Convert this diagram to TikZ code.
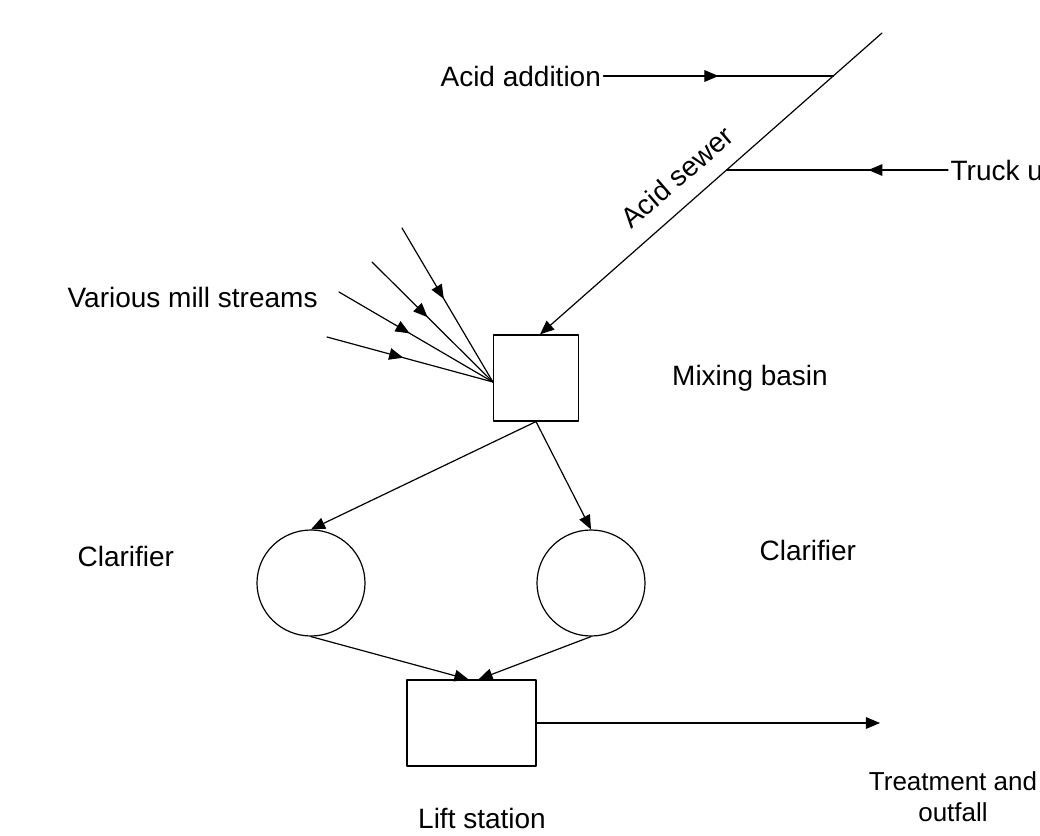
\documentclass[tikz,border=0pt]{standalone}
\usepackage{fontspec}
\setmainfont{Liberation Sans}
\usepackage{tikz}
\usetikzlibrary{calc}
\usetikzlibrary{arrows}
\usetikzlibrary{shapes.geometric}
\usetikzlibrary{decorations.markings}
\tikzstyle{every node}=[font=\fontsize{14}{17}\selectfont]
\tikzset{
  tank/.style={draw,line width=0.6pt,minimum width=42.5pt,minimum height=43pt,inner sep=0pt},
  clarif/.style={draw,ellipse,line width=0.6pt,minimum width=54pt,minimum height=53pt,inner sep=0pt},
  lbl/.style={inner sep=1pt},
  midarrow/.style={postaction={decorate},decoration={markings,mark=at position #1 with {\arrow{>}}}}
}

\begin{document}
\begin{tikzpicture}[line cap=round,line join=round,>=triangle 45,x=0.5pt,y=-0.5pt,line width=0.6pt]
        \useasboundingbox (0,0) rectangle (1040,836);
        % units and basins
        \node[tank] (mix) at (536,378) {};
        \node[tank,minimum width=64.5pt] (lift) at (471.5,723) {};
        \node[clarif] (clarL) at (311,583) {};
        \node[clarif] (clarR) at (591,583) {};
        % labels
        \node[lbl,anchor=west] (acid) at (438,76) {Acid addition};
        \node[lbl,anchor=west] (truck) at (948,170) {Truck u};
        \node[lbl,anchor=west] (mill) at (65,297) {Various mill streams};
        \node[lbl] (mixlbl) at (750,378) {Mixing basin};
        \node[lbl,anchor=west] (clarLlbl) at (75,556) {Clarifier};
        \node[lbl,anchor=west] (clarRlbl) at (757,550) {Clarifier};
        \node[lbl] (liftlbl) at (482,818) {Lift station};
        \node[lbl,align=center,font=\fontsize{13}{15.5}\selectfont] (outlbl) at (953,797) {Treatment and\\outfall};
        \node[lbl,rotate=41] (sewlbl) at (677,177) {Acid sewer};
        % acid sewer
        \coordinate (sewtop) at (882,33);
        \coordinate (sewend) at ([xshift=2pt]mix.north);
        \coordinate (acidj) at ($(sewtop)!0.142!(sewend)$);
        \coordinate (truckj) at ($(sewtop)!0.454!(sewend)$);
        \draw [->] (sewtop) -- (sewend);
        \draw [midarrow=0.5] (acid.east) -- (acidj |- acid.east);
        \draw [midarrow=0.36] (truck.west) -- (truckj |- truck.west);
        % mill streams
        \coordinate (s1) at (402,228);
        \coordinate (s2) at (372,262);
        \coordinate (s3) at (339,292);
        \coordinate (s4) at (327,337);
        \foreach \s in {s1,s2,s3,s4}
            \draw [midarrow=0.46] (\s) -- ([yshift=-2pt]mix.west);
        % flows
        \draw [->] (mix.south) -- (clarL.north);
        \draw [->] (mix.south) -- (clarR.north);
        \draw [->] (clarL.south) -- ([xshift=-1.5pt]lift.north);
        \draw [->] (clarR.south) -- ([xshift=3.5pt]lift.north);
        \coordinate (outend) at (880,723);
        \draw [->] (lift.east) -- (outend);
        \end{tikzpicture}
\end{document}
